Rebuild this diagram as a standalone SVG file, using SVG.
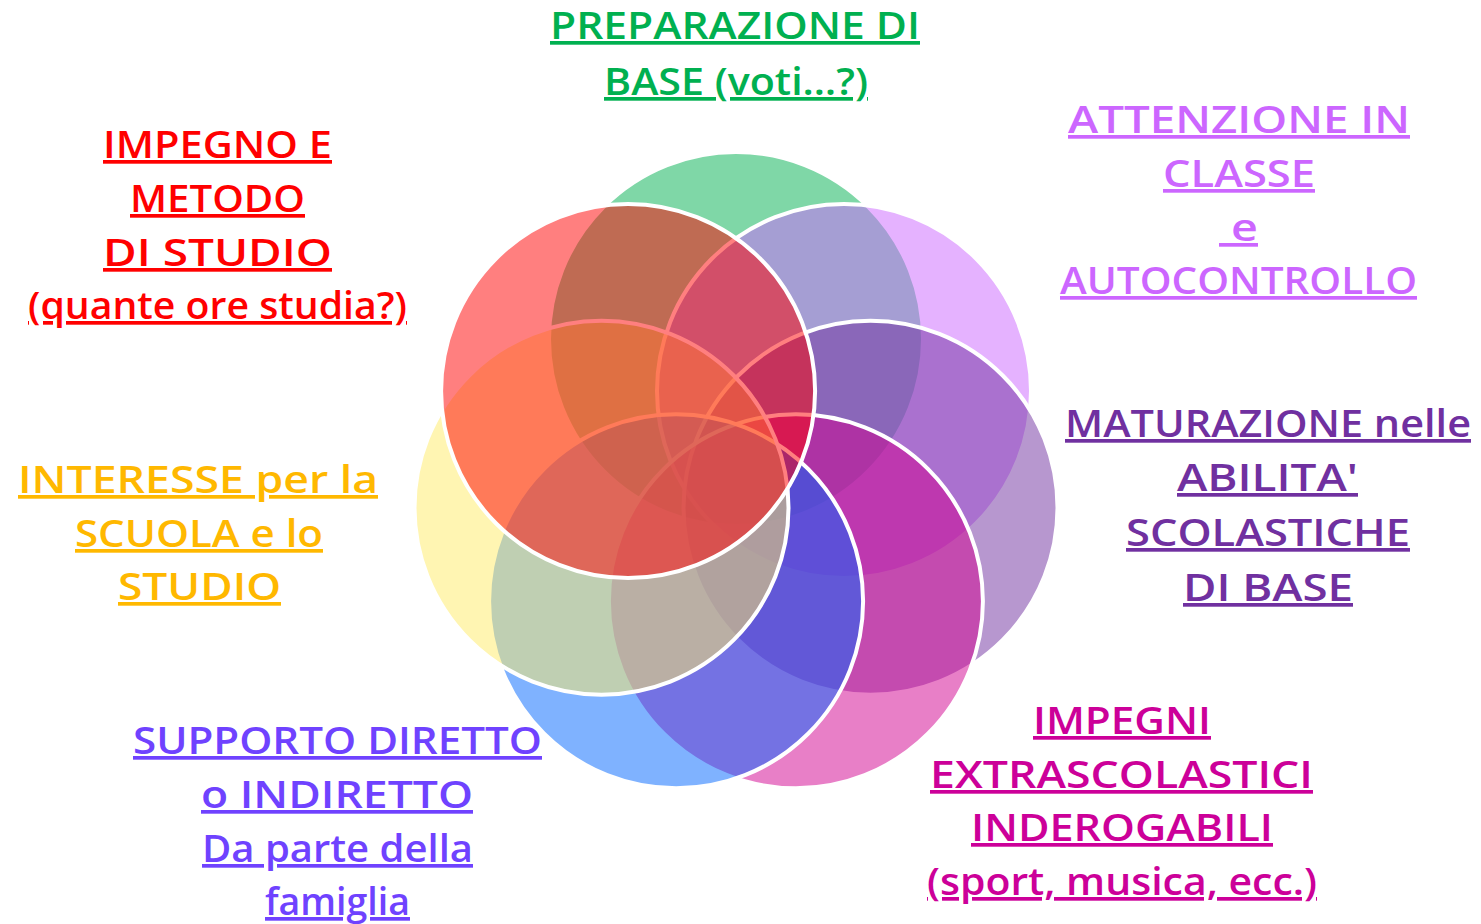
<svg xmlns="http://www.w3.org/2000/svg" width="1481" height="924" viewBox="0 0 1481 924">
<style>
.c{fill-opacity:0.5;stroke:#fff;stroke-width:4}
.t{font-family:"Open Sans","Liberation Sans",sans-serif;font-size:37px;font-weight:600;text-anchor:middle;text-decoration:underline;text-decoration-thickness:3px;text-underline-offset:5px}
</style>
<rect width="1481" height="924" fill="#fff"/>
<g id="node-preparazione">
<circle class="c" cx="736" cy="339" r="187" fill="#00B050"/>
<text class="t" fill="#00B050" x="735" y="39" textLength="370" lengthAdjust="spacingAndGlyphs">PREPARAZIONE DI</text>
<text class="t" fill="#00B050" x="736" y="95" textLength="264" lengthAdjust="spacingAndGlyphs">BASE (voti…?)</text>
</g>
<g id="node-attenzione">
<circle class="c" cx="844" cy="391" r="187" fill="#CC66FF"/>
<text class="t" fill="#CC66FF" x="1239" y="133" textLength="342" lengthAdjust="spacingAndGlyphs">ATTENZIONE IN</text>
<text class="t" fill="#CC66FF" x="1239" y="187" textLength="152" lengthAdjust="spacingAndGlyphs">CLASSE</text>
<text class="t" fill="#CC66FF" x="1238.5" y="241" textLength="39" lengthAdjust="spacingAndGlyphs">&#160;e</text>
<text class="t" fill="#CC66FF" x="1238.5" y="294" textLength="357" lengthAdjust="spacingAndGlyphs">AUTOCONTROLLO</text>
</g>
<g id="node-maturazione">
<circle class="c" cx="870.5" cy="507.7" r="187" fill="#7030A0"/>
<text class="t" fill="#7030A0" x="1268" y="437" textLength="406" lengthAdjust="spacingAndGlyphs">MATURAZIONE nelle</text>
<text class="t" fill="#7030A0" x="1267.5" y="491" textLength="181" lengthAdjust="spacingAndGlyphs">ABILITA'</text>
<text class="t" fill="#7030A0" x="1268" y="546" textLength="284" lengthAdjust="spacingAndGlyphs">SCOLASTICHE</text>
<text class="t" fill="#7030A0" x="1268" y="601" textLength="170" lengthAdjust="spacingAndGlyphs">DI BASE</text>
</g>
<g id="node-impegni">
<circle class="c" cx="795.9" cy="601.3" r="187" fill="#D1008F"/>
<text class="t" fill="#CC0099" x="1122" y="734" textLength="178" lengthAdjust="spacingAndGlyphs">IMPEGNI</text>
<text class="t" fill="#CC0099" x="1121.5" y="788" textLength="383" lengthAdjust="spacingAndGlyphs">EXTRASCOLASTICI</text>
<text class="t" fill="#CC0099" x="1122" y="841" textLength="302" lengthAdjust="spacingAndGlyphs">INDEROGABILI</text>
<text class="t" fill="#CC0099" x="1122" y="895" textLength="390" lengthAdjust="spacingAndGlyphs">(sport, musica, ecc.)</text>
</g>
<g id="node-supporto">
<circle class="c" cx="676.1" cy="601.3" r="187" fill="#0066FF"/>
<text class="t" fill="#6F42FF" x="337.5" y="754" textLength="409" lengthAdjust="spacingAndGlyphs">SUPPORTO DIRETTO</text>
<text class="t" fill="#6F42FF" x="337" y="808" textLength="272" lengthAdjust="spacingAndGlyphs">o INDIRETTO</text>
<text class="t" fill="#6F42FF" x="337.5" y="862" textLength="271" lengthAdjust="spacingAndGlyphs">Da parte della</text>
<text class="t" fill="#6F42FF" x="337.5" y="915" textLength="145" lengthAdjust="spacingAndGlyphs">famiglia</text>
</g>
<g id="node-interesse">
<circle class="c" cx="601.5" cy="507.7" r="187" fill="#FFEB66"/>
<text class="t" fill="#FFB800" x="198" y="493" textLength="360" lengthAdjust="spacingAndGlyphs">INTERESSE per la</text>
<text class="t" fill="#FFB800" x="199" y="547" textLength="248" lengthAdjust="spacingAndGlyphs">SCUOLA e lo</text>
<text class="t" fill="#FFB800" x="199.5" y="600" textLength="163" lengthAdjust="spacingAndGlyphs">STUDIO</text>
</g>
<g id="node-impegno">
<circle class="c" cx="628.1" cy="391" r="187" fill="#FF0000"/>
<text class="t" fill="#FF0000" x="217.5" y="158" textLength="229" lengthAdjust="spacingAndGlyphs">IMPEGNO E</text>
<text class="t" fill="#FF0000" x="217.5" y="212" textLength="175" lengthAdjust="spacingAndGlyphs">METODO</text>
<text class="t" fill="#FF0000" x="217.5" y="266" textLength="229" lengthAdjust="spacingAndGlyphs">DI STUDIO</text>
<text class="t" fill="#FF0000" x="217.5" y="319" textLength="379" lengthAdjust="spacingAndGlyphs">(quante ore studia?)</text>
</g>
</svg>
